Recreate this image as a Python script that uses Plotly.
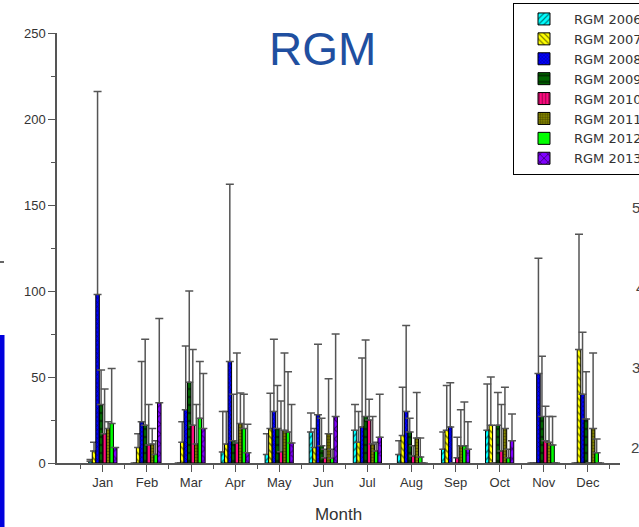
import plotly.graph_objects as go

months = ["Jan", "Feb", "Mar", "Apr", "May", "Jun", "Jul", "Aug", "Sep", "Oct", "Nov", "Dec"]
series_names = ["RGM 2006", "RGM 2007", "RGM 2008", "RGM 2009", "RGM 2010", "RGM 2011", "RGM 2012", "RGM 2013"]

rgm2006 = [1, 0, 0, 6.4, 5, 18, 19, 5, 8, 19, 0, 0]
rgm2007 = [7, 9, 12, 11, 20, 9, 12, 16, 19, 22, 0, 66]
rgm2008 = [98, 24, 31, 59, 30, 28, 21, 30, 21, 0, 52, 40]
rgm2009 = [34, 22, 47, 13, 20, 10, 27, 18, 0, 22, 27, 25.6]
rgm2010 = [17, 10.5, 22, 11.6, 6.6, 3, 25, 4, 3, 7, 13, 0]
rgm2011 = [20, 11, 11, 23, 19, 17, 11, 14.5, 10, 20, 12, 20]
rgm2012 = [23, 5, 26, 20, 18, 2.7, 7, 3.5, 10, 3, 10.5, 6]
rgm2013 = [9, 35, 20, 6, 11.6, 27, 15, 0, 8, 13, 0, 0]

err2006 = [1, 0, 0, 23.6, 12, 11, 15, 8, 10, 27, 0, 0]
err2007 = [5, 8, 12, 19, 20.6, 11, 18, 28, 26, 28, 0, 67]
err2008 = [118, 35, 37, 103, 42, 41, 40, 50, 25.7, 0, 67, 36]
err2009 = [20, 50, 53, 27, 25, 16, 44.5, 8, 0, 19, 35, 27.4]
err2010 = [26, 23.5, 44, 52.4, 29.4, 5, 12, 6, 12, 27, 20, 0]
err2011 = [4, 9, 23, 17.7, 45, 32, 16, 26.5, 21, 24, 15, 44]
err2012 = [32, 8, 33, 20, 35, 5.3, 5, 11, 25.5, 5, 16.5, 8]
err2013 = [0, 49, 32, 16.6, 22.4, 48, 25, 0, 16, 15.5, 0, 0]

values = [rgm2006, rgm2007, rgm2008, rgm2009, rgm2010, rgm2011, rgm2012, rgm2013]
errors = [err2006, err2007, err2008, err2009, err2010, err2011, err2012, err2013]
colors = ["#00ffff", "#ffff00", "#0000ff", "#006400", "#ff0a80", "#808000", "#00ff00", "#8000ff"]
patterns = ["/", "\\", "x", "-", "|", "+", "", "x"]
pat_size = [5, 5, 3, 8, 4, 3, 5, 7]

W, H = 639, 527
L, R, T, B = 57, 19, 33, 64
pw, ph = W - L - R, H - T - B


def px_x(p):
    return (p - L) / pw


def px_y(p):
    return (H - B - p) / ph


fig = go.Figure()
xs = list(range(len(months)))
for name, vals, errs, c, pat, ps in zip(series_names, values, errors, colors, patterns, pat_size):
    up = [None if (v == 0 and e == 0) else e for v, e in zip(vals, errs)]
    dn = [None if (v == 0 and e == 0) else 0 for v, e in zip(vals, errs)]
    fig.add_trace(go.Bar(
        x=xs, y=vals, name=name,
        marker=dict(color=c, line=dict(color="black", width=1),
                    pattern=dict(shape=pat, fgcolor="black", size=ps, solidity=0.3)),
        error_y=dict(type="data", array=up, arrayminus=dn, symmetric=False,
                     color="#555555", thickness=1.5, width=4),
    ))

font_main = "Liberation Sans, Arial, sans-serif"
fig.update_layout(
    width=W, height=H,
    margin=dict(l=L, r=R, t=T, b=B, autoexpand=False),
    paper_bgcolor="white", plot_bgcolor="white",
    barmode="group", bargap=0.36, bargroupgap=0,
    font=dict(family=font_main, color="#333333"),
    showlegend=True,
    legend=dict(x=px_x(513), y=px_y(3), xanchor="left", yanchor="top",
                bordercolor="black", borderwidth=1, bgcolor="white",
                font=dict(size=13, color="#333333", family="DejaVu Sans, Liberation Sans, sans-serif"),
                itemwidth=50, tracegroupgap=0),
    xaxis=dict(range=[-1.04, 11.73], tickmode="array", tickvals=xs, ticktext=months,
               ticks="outside", ticklen=7, tickcolor="#555555", tickwidth=1.2,
               showline=True, linecolor="#555555", linewidth=1.5,
               showgrid=False, zeroline=False,
               tickfont=dict(size=13, color="#333333"),
               minor=dict(tickmode="array", tickvals=[i - 0.5 for i in range(13)],
                          ticks="outside", ticklen=4, tickcolor="#555555", showgrid=False),
               title=dict(text="Month", font=dict(size=17, color="#333333"), standoff=19)),
    yaxis=dict(range=[0, 250], tickmode="linear", tick0=0, dtick=50,
               ticks="outside", ticklen=7, tickcolor="#555555", tickwidth=1.2,
               showline=True, linecolor="#555555", linewidth=1.5,
               showgrid=False, zeroline=False,
               tickfont=dict(size=13, color="#333333"),
               minor=dict(dtick=25, ticks="outside", ticklen=4, tickcolor="#555555", showgrid=False)),
)

fig.add_annotation(text="RGM", xref="paper", yref="paper", x=px_x(322), y=px_y(49),
                   xanchor="center", yanchor="middle", showarrow=False,
                   font=dict(size=46, color="#1f4fa0", family=font_main))

# slide artifacts around the chart
fig.add_shape(type="rect", xref="paper", yref="paper", x0=px_x(0), x1=px_x(4.5),
              y0=px_y(527), y1=px_y(335), fillcolor="#0000dd", line=dict(width=0))
fig.add_shape(type="line", xref="paper", yref="paper", x0=px_x(0), x1=px_x(4),
              y0=px_y(262), y1=px_y(262), line=dict(color="#333333", width=1.5))
for txt, xp, yp in [("5", 630, 207), ("4", 634, 287), ("3", 630, 367), ("2", 629, 447)]:
    fig.add_annotation(text=txt, xref="paper", yref="paper", x=px_x(xp), y=px_y(yp),
                       xanchor="left", yanchor="middle", showarrow=False,
                       font=dict(size=15, color="#444444", family=font_main))

fig.write_html("out.html", config={"displayModeBar": False},
               post_script="document.body.style.margin='0px';")
